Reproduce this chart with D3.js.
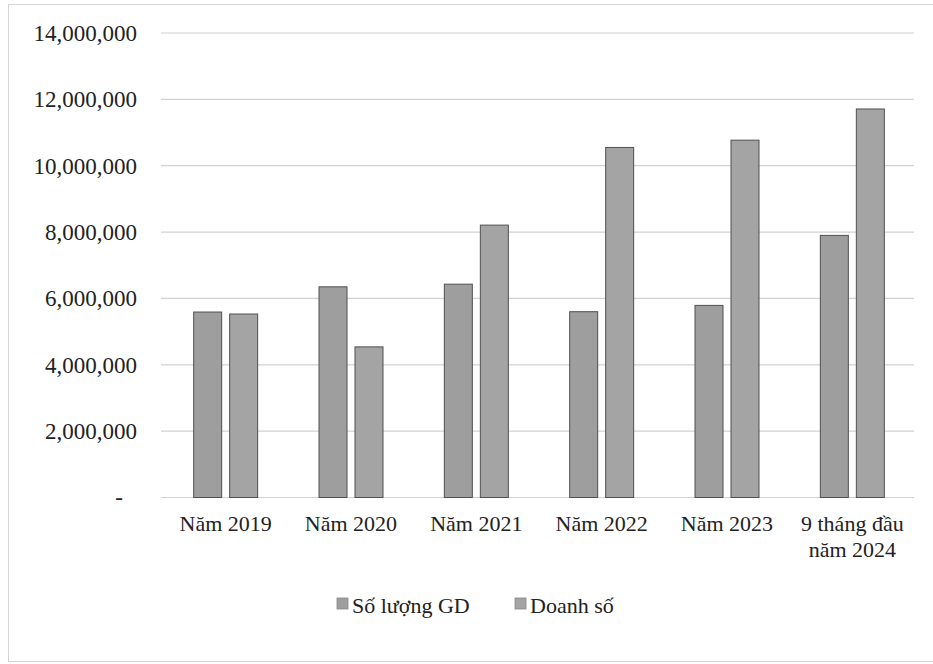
<!DOCTYPE html>
<html>
<head>
<meta charset="utf-8">
<script src="https://cdn.jsdelivr.net/npm/d3@7"></script>
<style>
  html, body { margin: 0; padding: 0; background: #fff; }
  svg { display: block; }
  svg text { font-family: "Liberation Serif", "Tinos", "Times New Roman", "DejaVu Serif", serif !important; fill: #222; }
</style>
</head>
<body>
<svg id="chart" width="933" height="664"></svg>
<script>
// Categories (x-axis), each may span two lines
const categories = ["Năm 2019", "Năm 2020", "Năm 2021", "Năm 2022", "Năm 2023", "9 tháng đầu\nnăm 2024"];
const seriesNames = ["Số lượng GD", "Doanh số"];
const soLuongGD = [5590000, 6350000, 6430000, 5600000, 5790000, 7900000];
const doanhSo   = [5530000, 4540000, 8210000, 10550000, 10770000, 11710000];
const yTicks = [0, 2000000, 4000000, 6000000, 8000000, 10000000, 12000000, 14000000];

const svg = d3.select("#chart");

// Frame around the whole chart
svg.append("rect")
  .attr("x", 8.5).attr("y", 4.5).attr("width", 930).attr("height", 657)
  .attr("fill", "none").attr("stroke", "#d4d4d4").attr("stroke-width", 1);

const plot = { left: 161, right: 914, top: 33, bottom: 497.5 };

const y = d3.scaleLinear().domain([0, 14000000]).range([plot.bottom, plot.top]);
const x0 = d3.scaleBand().domain(categories).range([163, 915]).paddingInner(0).paddingOuter(0);
const x1 = d3.scaleBand().domain(seriesNames).range([-32, 32]).paddingInner(0.222);

// Horizontal gridlines
svg.append("g")
  .selectAll("line")
  .data(yTicks)
  .join("line")
  .attr("x1", plot.left).attr("x2", plot.right)
  .attr("y1", d => y(d)).attr("y2", d => y(d))
  .attr("stroke", "#d2d2d2").attr("stroke-width", 1.2);

// Y-axis labels (zero shown as a dash)
const fmt = d3.format(",");
const yAxis = d3.axisLeft(y).tickValues(yTicks).tickSize(0).tickPadding(0)
  .tickFormat(d => d === 0 ? "-" : fmt(d));
const gy = svg.append("g").attr("transform", "translate(137,0)").call(yAxis);
gy.attr("font-family", null);
gy.select(".domain").remove();
gy.selectAll("text")
  .attr("font-size", 23).attr("fill", "#222")
  .attr("dy", "0.32em")
  .attr("dx", d => d === 0 ? -14 : 0);

// Bars
const rows = categories.map((c, i) => ({ cat: c, vals: [soLuongGD[i], doanhSo[i]] }));
const groups = svg.append("g")
  .selectAll("g")
  .data(rows)
  .join("g")
  .attr("transform", d => `translate(${x0(d.cat) + x0.bandwidth() / 2},0)`);

groups.selectAll("rect")
  .data(d => d.vals.map((v, j) => ({ key: seriesNames[j], v })))
  .join("rect")
  .attr("x", d => x1(d.key))
  .attr("width", x1.bandwidth())
  .attr("y", d => y(d.v))
  .attr("height", d => y(0) - y(d.v))
  .attr("fill", d => d.key === seriesNames[0] ? "#9e9e9e" : "#a4a4a4")
  .attr("stroke", "#505050")
  .attr("stroke-width", 1);

// X-axis category labels
const xl = svg.append("g");
categories.forEach(c => {
  const lines = c.split("\n");
  const t = xl.append("text")
    .attr("x", x0(c) + x0.bandwidth() / 2)
    .attr("y", 531)
    .attr("text-anchor", "middle")
    .attr("font-size", 22);
  lines.forEach((ln, k) => {
    t.append("tspan")
      .attr("x", x0(c) + x0.bandwidth() / 2)
      .attr("dy", k === 0 ? 0 : 26)
      .text(ln);
  });
});

// Legend
const legend = svg.append("g");
const legendItems = [
  { name: seriesNames[0], sx: 337, color: "#9e9e9e" },
  { name: seriesNames[1], sx: 515, color: "#a4a4a4" }
];
legendItems.forEach(it => {
  legend.append("rect")
    .attr("x", it.sx).attr("y", 598).attr("width", 11).attr("height", 11)
    .attr("fill", it.color).attr("stroke", "#888").attr("stroke-width", 0.8);
  legend.append("text")
    .attr("x", it.sx + 15).attr("y", 613)
    .attr("font-size", 22)
    .text(it.name);
});
</script>
</body>
</html>
